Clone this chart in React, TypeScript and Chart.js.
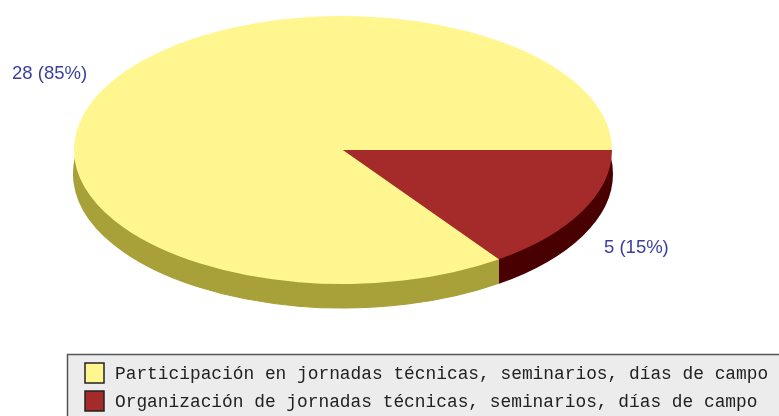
import React, { useEffect, useRef } from "react";
import { Chart, registerables } from "chart.js";

Chart.register(...registerables);

const categories = [
  "Participación en jornadas técnicas, seminarios, días de campo",
  "Organización de jornadas técnicas, seminarios, días de campo",
];
const values = [28, 5];
const sliceLabels = ["28 (85%)", "5 (15%)"];
const topColors = ["#FFF68F", "#A52A2A"];
const sideColors = ["#A8A038", "#480000"];

const X_STRETCH = 269 / 134;
const DEPTH = 24;
const labelSpots = [
  { x: 12, y: 74 },
  { x: 604, y: 248 },
];

const piePlugin = {
  id: "tiltedPie",
  beforeDatasetsDraw(chart: any) {
    const { ctx } = chart;
    const arcs = chart.getDatasetMeta(0).data;
    const { x: cx, y: cy } = arcs[0];
    const boundary = cx + arcs[0].outerRadius * X_STRETCH * Math.cos(arcs[0].startAngle);
    sideColors.forEach((color, i) => {
      ctx.save();
      ctx.beginPath();
      if (i === 0) ctx.rect(0, 0, boundary, chart.height);
      else ctx.rect(boundary, 0, chart.width - boundary, chart.height);
      ctx.clip();
      ctx.translate(cx, cy + DEPTH);
      ctx.scale(X_STRETCH, 1);
      ctx.translate(-cx, -cy);
      // painted with a thin same-colour border so the two sectors leave no seam
      arcs.forEach((arc: any) => {
        const orig = arc.options;
        arc.options = { ...orig, backgroundColor: color, borderColor: color, borderWidth: 1 };
        arc.draw(ctx);
        arc.options = orig;
      });
      ctx.restore();
    });
    ctx.save();
    ctx.translate(cx, cy);
    ctx.scale(X_STRETCH, 1);
    ctx.translate(-cx, -cy);
  },
  afterDatasetsDraw(chart: any) {
    const { ctx } = chart;
    ctx.restore();
    ctx.save();
    ctx.font = "18.5px 'Liberation Sans'";
    ctx.fillStyle = "#3A3F9E";
    ctx.textBaseline = "middle";
    ctx.textAlign = "left";
    sliceLabels.forEach((t, i) => ctx.fillText(t, labelSpots[i].x, labelSpots[i].y));
    ctx.restore();

    // legend panel, cut off by the right and bottom edges of the picture
    ctx.save();
    ctx.fillStyle = "#ECECEC";
    ctx.fillRect(67, 354, 720, 70);
    ctx.strokeStyle = "#555555";
    ctx.lineWidth = 1.5;
    ctx.beginPath();
    ctx.moveTo(67.5, 420);
    ctx.lineTo(67.5, 354.5);
    ctx.lineTo(785, 354.5);
    ctx.stroke();
    ctx.font = "17.85px 'Liberation Mono'";
    ctx.textBaseline = "middle";
    ctx.textAlign = "left";
    categories.forEach((c, i) => {
      const y = 373 + i * 28;
      ctx.fillStyle = topColors[i];
      ctx.fillRect(85, y - 10, 19, 20);
      ctx.strokeStyle = "#222222";
      ctx.lineWidth = 1.5;
      ctx.strokeRect(85, y - 10, 19, 20);
      ctx.fillStyle = "#222222";
      ctx.fillText(c, 115, y + 1);
    });
    ctx.restore();
  },
};

export default function App() {
  const ref = useRef<HTMLCanvasElement>(null);
  useEffect(() => {
    document.body.style.margin = "0";
    document.body.style.background = "#ffffff";
    const chart = new Chart(ref.current!, {
      type: "pie",
      data: {
        labels: categories,
        datasets: [
          {
            data: values,
            backgroundColor: topColors,
            borderWidth: 0,
            clip: false,
          } as any,
        ],
      },
      options: {
        responsive: false,
        animation: false,
        rotation: 144.55,
        layout: { padding: { left: 74, right: 167, top: 16, bottom: 132 } },
        plugins: { legend: { display: false }, tooltip: { enabled: false } },
      },
      plugins: [piePlugin],
    });
    return () => chart.destroy();
  }, []);
  return (
    <canvas
      ref={ref}
      width={779}
      height={416}
      style={{ display: "block", width: 779, height: 416, filter: "blur(0.4px)" }}
    />
  );
}
